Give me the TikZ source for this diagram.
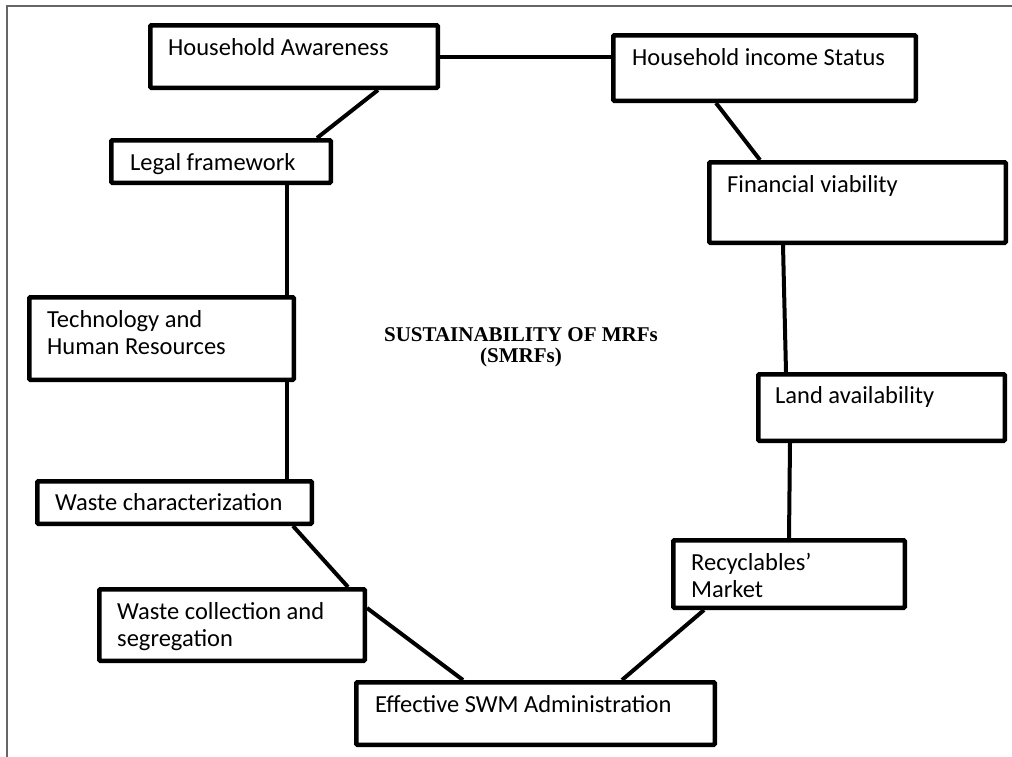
\documentclass[tikz,border=0pt]{standalone}
\usepackage{fontspec}
\setmainfont{Carlito}
\newfontfamily\titlefont{Liberation Serif}
\usetikzlibrary{calc}
\begin{document}
\begin{tikzpicture}[x=1pt,y=-1pt,
  box/.style={draw=black, line width=4.5pt, inner sep=0pt, anchor=north west, rounded corners=1pt},
  lbl/.style={anchor=base west, inner sep=0pt, font=\fontsize{24.5}{27}\selectfont, align=left},
  link/.style={line width=4pt},
  frame/.style={draw=black!60, line width=2pt}]
\useasboundingbox (0,0) rectangle (1012,756);
\draw[frame] (7,6) rectangle (1030,780);
% boxes
\node[box, minimum width=287.5pt, minimum height=62.5pt] (ha) at (148,23) {};
\node[box, minimum width=219.5pt, minimum height=42.5pt] (lf) at (109,138) {};
\node[box, minimum width=302.5pt, minimum height=65.5pt] (his) at (611,33) {};
\node[box, minimum width=296.5pt, minimum height=80.5pt] (fv) at (707,160) {};
\node[box, minimum width=264.5pt, minimum height=82.5pt] (tech) at (27,295) {};
\node[box, minimum width=274.5pt, minimum height=42.5pt] (wc) at (35,479) {};
\node[box, minimum width=265.5pt, minimum height=71.5pt] (wcs) at (97,587) {};
\node[box, minimum width=358.5pt, minimum height=62.5pt] (eswm) at (354,680) {};
\node[box, minimum width=246.5pt, minimum height=66.5pt] (la) at (756,372) {};
\node[box, minimum width=231.5pt, minimum height=67.5pt] (rm) at (671,538) {};
% labels (multi-line: anchor at last baseline)
\node[lbl] (haT) at (168,55) {Household Awareness};
\node[lbl] (lfT) at (130,170) {Legal framework};
\node[lbl] (hisT) at (632,65) {Household income Status};
\node[lbl] (fvT) at (727,192) {Financial viability};
\node[lbl] (techT) at (47,354) {Technology and\\Human Resources};
\node[lbl] (wcT) at (55,510) {Waste characterization};
\node[lbl] (wcsT) at (117,646) {Waste collection and\\segregation};
\node[lbl] (eswmT) at (375,712) {Effective SWM Administration};
\node[lbl] (laT) at (775,403) {Land availability};
\node[lbl] (rmT) at (691,597) {Recyclables'\\Market};
\node[anchor=base, inner sep=0pt, align=center, font=\titlefont\bfseries\fontsize{21}{20.5}\selectfont] (title) at (521,362) {SUSTAINABILITY OF MRFs\\(SMRFs)};
% connectors
\draw[link] (ha.east) -- (ha.east -| his.west);
\draw[link] ($(ha.south west)+(230,0)$) -- ($(lf.north west)+(208,0)$);
\draw[link] ($(lf.south west)+(178,0)$) -- ($(tech.north west)+(260,0)$);
\draw[link] ($(tech.south west)+(260,0)$) -- ($(wc.north west)+(252,0)$);
\draw[link] ($(wc.south west)+(258,0)$) -- ($(wcs.north west)+(251,0)$);
\draw[link] ($(wcs.north east)+(0,21)$) -- ($(eswm.north west)+(109,0)$);
\draw[link] ($(eswm.north west)+(268,0)$) -- ($(rm.south west)+(33,0)$);
\draw[link] ($(rm.north west)+(118,0)$) -- ($(la.south west)+(34,0)$);
\draw[link] ($(la.north west)+(30,0)$) -- ($(fv.south west)+(76,0)$);
\draw[link] ($(fv.north west)+(53,0)$) -- ($(his.south west)+(105,0)$);
\end{tikzpicture}
\end{document}
